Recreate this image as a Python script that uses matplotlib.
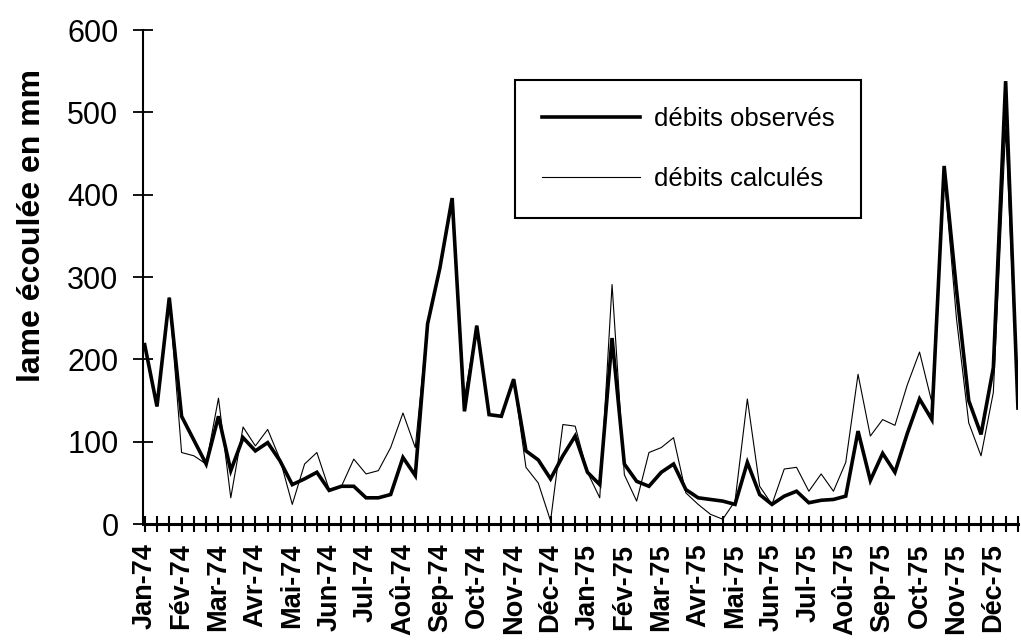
import matplotlib
matplotlib.use("Agg")
import matplotlib.pyplot as plt

plt.rcParams['font.family'] = ['Liberation Sans', 'DejaVu Sans']

months = ["Jan", "Fév", "Mar", "Avr", "Mai", "Jun", "Jul", "Aoû", "Sep", "Oct", "Nov", "Déc"]
years = ["74", "75"]
month_labels = [f"{m}-{y}" for y in years for m in months]

# ten-day (décade) values, 3 per month, Jan-74 .. Déc-75
observed = [218, 143, 275, 131, 102, 73, 131, 65, 105, 89, 99, 77,
            48, 55, 63, 41, 46, 46, 32, 32, 36, 81, 59, 243,
            311, 396, 137, 241, 133, 131, 176, 89, 78, 55, 83, 107,
            63, 48, 226, 73, 52, 46, 63, 73, 42, 32, 30, 28,
            24, 75, 36, 24, 34, 40, 26, 29, 30, 34, 113, 53,
            86, 63, 110, 152, 127, 435, 285, 150, 109, 190, 538, 141]
calculated = [218, 143, 275, 87, 83, 73, 153, 32, 118, 95, 115, 79,
              24, 73, 87, 42, 46, 79, 61, 65, 93, 135, 93, 243,
              311, 390, 154, 241, 133, 131, 176, 69, 50, 4, 121, 119,
              63, 32, 291, 60, 28, 87, 93, 105, 38, 24, 12, 6,
              28, 152, 46, 24, 67, 69, 40, 61, 40, 75, 182, 107,
              127, 120, 169, 209, 148, 425, 250, 123, 83, 160, 480, 145]

x = list(range(len(observed)))

fig = plt.figure(figsize=(10.21, 6.40), dpi=100)
ax = fig.add_axes([0.1405, 0.181, 0.8565, 0.772])

ax.plot(x, observed, color='black', lw=2.6, label='débits observés', solid_joinstyle='miter')
ax.plot(x, calculated, color='black', lw=0.8, label='débits calculés')

ax.set_xlim(-0.1, 71)
ax.set_ylim(0, 600)

tick_labels = []
for i in x:
    tick_labels.append(month_labels[i // 3] if i % 3 == 0 else "")
ax.set_xticks(x)
ax.set_xticklabels(tick_labels, rotation=90, fontsize=19.5, fontweight='bold')
ax.set_yticks([0, 100, 200, 300, 400, 500, 600])
ax.tick_params(axis='y', direction='inout', length=14, width=1.3, labelsize=22, pad=11)
ax.tick_params(axis='x', direction='inout', length=12, width=1.5, pad=8)

for s in ['top', 'right']:
    ax.spines[s].set_visible(False)
ax.spines['left'].set_linewidth(1.5)
ax.spines['bottom'].set_linewidth(2.2)

ax.set_ylabel("lame écoulée en mm", fontsize=23, fontweight='bold')
ax.yaxis.set_label_coords(-0.11, 0.605)

leg = ax.legend(loc='upper left', bbox_to_anchor=(0.425, 0.899), fontsize=18.5,
                frameon=True, fancybox=False, edgecolor='black', framealpha=1,
                handlelength=3.8, handletextpad=0.55, labelspacing=1.4,
                borderpad=1.05, borderaxespad=0)
leg.get_frame().set_linewidth(1.5)

fig.savefig("out.png", dpi=100)
